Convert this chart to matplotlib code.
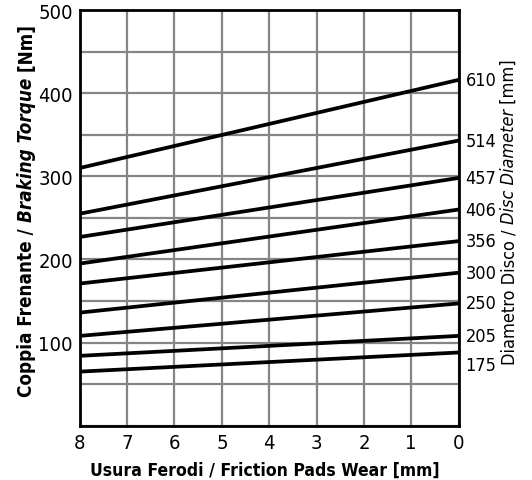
import matplotlib
matplotlib.use('Agg')
import matplotlib.pyplot as plt

# disc diameters (mm) and braking torque at 8 mm wear and 0 mm wear
diameters = ['610', '514', '457', '406', '356', '300', '250', '205', '175']
wear = [8, 0]
torque_worn = [310, 255, 227, 195, 171, 136, 108, 84, 65]
torque_new = [416, 343, 298, 260, 222, 184, 147, 108, 88]

x_ticks = [8, 7, 6, 5, 4, 3, 2, 1, 0]
y_ticks = [100, 200, 300, 400, 500]

plt.rcParams['font.family'] = 'DejaVu Sans'
plt.rcParams['font.stretch'] = 'condensed'

fig = plt.figure(figsize=(5.32, 4.81), dpi=100)
ax = fig.add_axes([0.150, 0.113, 0.712, 0.864])

for y in range(0, 501, 50):
    ax.axhline(y, color='#858585', lw=1.6, zorder=1)
for x in x_ticks:
    ax.axvline(x, color='#858585', lw=1.6, zorder=1)

for d, a, b in zip(diameters, torque_worn, torque_new):
    ax.plot(wear, [a, b], color='black', lw=2.7, solid_capstyle='butt', zorder=3)
    off = -9 if d == '175' else 0
    ax.annotate(d, xy=(0, b), xytext=(5, off), textcoords='offset points',
                ha='left', va='center', fontsize=13)

ax.set_xlim(8, 0)
ax.set_ylim(0, 500)
ax.set_xticks(x_ticks)
ax.set_yticks(y_ticks)
ax.tick_params(length=0, labelsize=14.5, pad=5)
for s in ax.spines.values():
    s.set_linewidth(2)
    s.set_zorder(4)

fig.text(265 / 532, 1 - 471 / 481, 'Usura Ferodi / Friction Pads Wear [mm]',
         ha='center', va='center', fontsize=12.6, fontweight='bold')


def vertical_rich(pieces, x, y_center, size):
    # draw text pieces one after the other going upward, centred on y_center
    r = fig.canvas.get_renderer()
    texts = []
    for s, style, weight in pieces:
        t = fig.text(0, 0, s, rotation=90, rotation_mode='anchor', ha='left', va='center',
                     fontsize=size, fontstyle=style, fontweight=weight, transform=None)
        texts.append(t)
    heights = [t.get_window_extent(r).height for t in texts]
    total = sum(heights)
    y = y_center - total / 2
    for t, h in zip(texts, heights):
        t.set_position((x, y))
        y += h


H = 481
vertical_rich([('Coppia Frenante / ', 'normal', 'bold'),
               ('Braking Torque', 'italic', 'bold'),
               (' [Nm]', 'normal', 'bold')], 27, H - 211, 13.5)
vertical_rich([('Diametro Disco / ', 'normal', 'normal'),
               ('Disc Diameter', 'italic', 'normal'),
               (' [mm]', 'normal', 'normal')], 509, H - 212, 13)

fig.savefig('out.png', dpi=100)
